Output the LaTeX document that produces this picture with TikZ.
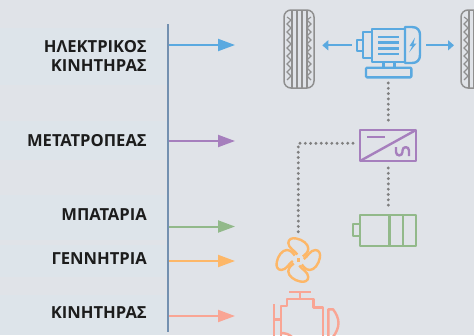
\documentclass[tikz,border=0pt]{standalone}
\usepackage{fontspec}
\setmainfont{Open Sans}
\usetikzlibrary{arrows.meta,calc}
\definecolor{bgc}{HTML}{E0E3E8}
\definecolor{bandc}{HTML}{DDE4EA}
\definecolor{spinec}{HTML}{7390B0}
\definecolor{bluec}{HTML}{5AA9E0}
\definecolor{purplec}{HTML}{A67FBD}
\definecolor{greenc}{HTML}{92B98A}
\definecolor{orangec}{HTML}{FDB768}
\definecolor{salmonc}{HTML}{F9A594}
\definecolor{grayc}{HTML}{7F7F7F}
\definecolor{tirec}{HTML}{8F8F8F}
\definecolor{textc}{HTML}{1C1C1C}
\tikzset{
 lab/.style={anchor=east,inner sep=0pt,text=textc,font=\fontsize{16.6}{19}\selectfont\bfseries},
 feed/.style={line width=2pt,-{Triangle[length=17pt,width=12pt]}},
 icon/.style={line width=2.4pt,line join=round},
 dots/.style={grayc,line width=3.2pt,line cap=round,dash pattern=on 0pt off 5.3pt},
 twoway/.style={bluec,line width=2pt,-{Triangle[length=6pt,width=10pt]}},
 tread/.style={tirec,line width=1.1pt},
}
\newcommand{\tyre}[1]{%
 \begin{scope}[shift={(#1,0)}]
  \draw[tirec,line width=1.5pt,rounded corners=7pt] (0,10) rectangle (30,88);
  \foreach \x in {8,13,18,23}{\draw[tread] (\x,10) -- (\x,88);}
  \draw[tread] (3,17) \foreach \y in {20,28,...,80}{ -- (7,\y) -- (3,\y+4)};
  \draw[tread] (27,17) \foreach \y in {20,28,...,80}{ -- (23,\y) -- (27,\y+4)};
 \end{scope}}
\begin{document}
\begin{tikzpicture}[x=1pt,y=-1pt]
\useasboundingbox (0,0) rectangle (474,335);
\clip (0,0) rectangle (474,335);
\fill[bgc] (0,0) rectangle (474,335);
\foreach \a/\b in {28/85,121/160,195/240,245/277,295/335}{\fill[bandc] (0,\a) rectangle (167,\b);}
% labels
\node[lab] (l1) at (147,46.5) {ΗΛΕΚΤΡΙΚΟΣ};
\node[lab] (l1b) at (147,65.5) {ΚΙΝΗΤΗΡΑΣ};
\node[lab] (l2) at (147,140.5) {ΜΕΤΑΤΡΟΠΕΑΣ};
\node[lab] (l3) at (147,215) {ΜΠΑΤΑΡΙΑ};
\node[lab] (l4) at (147,259) {ΓΕΝΝΗΤΡΙΑ};
\node[lab] (l5) at (147,312.5) {ΚΙΝΗΤΗΡΑΣ};
% spine
\coordinate (st) at (168,24); \coordinate (sb) at (168,332);
\draw[spinec,line width=1.4pt] (st) -- (sb);
\foreach \n/\y/\c in {a/45/bluec,b/141/purplec,c/226.5/greenc,d/261/orangec,e/316/salmonc}{
 \coordinate (\n0) at (169,\y); \coordinate (\n1) at (235,\y);
 \draw[feed,\c] (\n0) -- (\n1);}
% tyres
\tyre{284}
\tyre{461}
% motor
\begin{scope}[icon,bluec]
 \draw (371.7,29) rectangle (405,62);
 \draw (405,27) -- (412,27) .. controls (418,27) and (420,31) .. (420,35) -- (420,55) .. controls (420,60) and (417,63) .. (412,63) -- (405,63) -- cycle;
 \draw (362.7,32) rectangle (371.7,58);
 \draw (356.7,40) rectangle (362.7,50.7);
 \foreach \y in {36.7,42.3,48.3,54}{\draw (378.3,\y) -- (399,\y);}
 \draw (383.3,62) -- (383.3,67.7) (394.3,62) -- (394.3,67.7);
 \draw[rounded corners=1pt] (366,67.7) rectangle (411.3,77.3);
 \fill (415,37.5) -- (409.5,46) -- (412.3,46) -- (409,52.5) -- (416.5,43.5) -- (413.5,43.5) -- cycle;
\end{scope}
\coordinate (ml) at (351.7,45.3); \coordinate (mla) at (322.3,45.3);
\coordinate (mr) at (426,45.3); \coordinate (mra) at (454,45.3);
\draw[twoway] (ml) -- (mla);
\draw[twoway] (mr) -- (mra);
% dotted links
\coordinate (d1) at (388.3,83); \coordinate (d2) at (388.3,123);
\coordinate (d3) at (388.3,168); \coordinate (d4) at (388.3,208);
\coordinate (d5) at (353,143.3); \coordinate (d6) at (298.3,143.3); \coordinate (d7) at (298.3,231.7);
\draw[dots] (d1) -- (d2);
\draw[dots] (d3) -- (d4);
\draw[dots] (d5) -- (d6) -- (d7);
% converter
\begin{scope}[icon,purplec]
 \draw (360,130) rectangle (416,161);
 \draw (360,161) -- (416,130);
 \draw (367.3,136.7) -- (385,136.7);
 \draw (396,147) -- (396,152) .. controls (396,156.5) and (402.5,156.5) .. (402.5,152) -- (402.5,150.5) .. controls (402.5,146) and (409,146) .. (409,150.5) -- (409,156);
\end{scope}
% battery
\begin{scope}[icon,greenc]
 \draw (360,215) rectangle (416,245.7);
 \draw (352.7,224) rectangle (360,236);
 \draw (389.3,215) -- (389.3,245.7) (402.7,215) -- (402.7,245.7);
\end{scope}
% fan
\begin{scope}[shift={(298.3,260)},icon,orangec]
 \fill (-1.6,-1.6) rectangle (1.6,1.6);
 \foreach \r in {0,90,180,270}{
  \draw[rotate=\r] (-1,-5.5) .. controls (-3,-9) and (-10,-12) .. (-10,-17) .. controls (-10,-21) and (-6,-22.5) .. (-2,-21.5) .. controls (4,-20.5) and (10,-16) .. (10,-11.5) .. controls (10,-7) and (6,-5) .. (4.5,-3.5);
 }
\end{scope}
% engine
\begin{scope}[icon,salmonc]
 \draw (289.3,291.7) -- (310.7,291.7) (300,291.7) -- (300,299);
 \draw (280.7,337) -- (280.7,306) -- (286.7,306) -- (286.7,299) -- (313.3,299) -- (313.3,307.3) -- (322.7,307.3) -- (322.7,337);
 \draw (274,304) -- (274,337) (274,319.3) -- (280.7,319.3);
 \draw (280.7,333) .. controls (285,333) and (289,334) .. (292,337);
 \draw (328.3,337) -- (328.3,309.3) -- (333,309.3) .. controls (336,313) and (338.5,318) .. (338.5,323) .. controls (338.5,328) and (336,333) .. (333,337);
\end{scope}
\end{tikzpicture}
\end{document}
